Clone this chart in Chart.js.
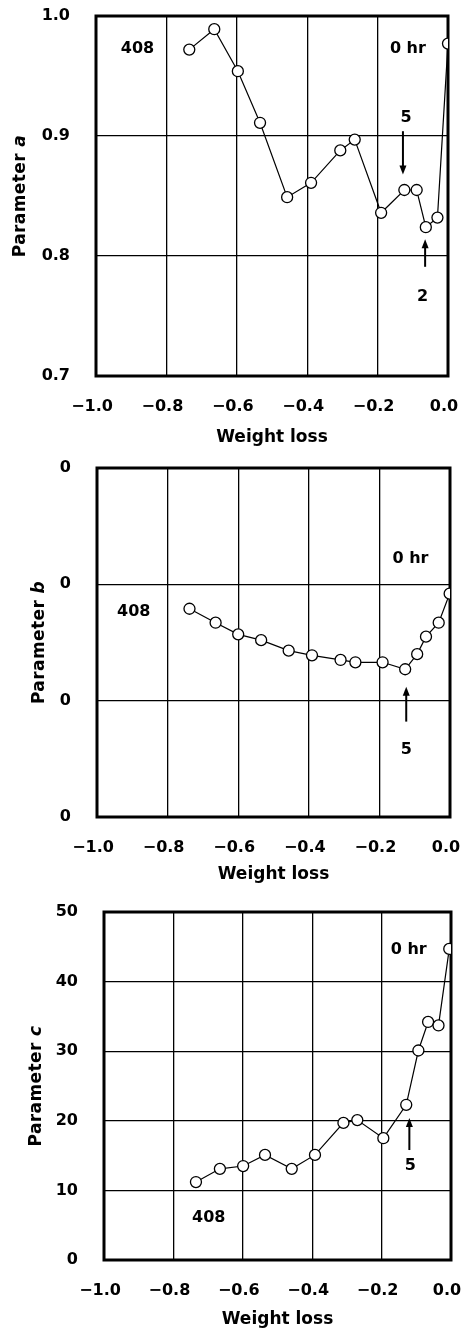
<!DOCTYPE html>
<html>
<head>
<meta charset="utf-8">
<script src="https://cdn.jsdelivr.net/npm/chart.js@4.4.1/dist/chart.umd.min.js"></script>
<style>
    body { margin: 0; background: #fff; }
    .panel { position: absolute; left: 0; width: 464px; }
</style>
</head>
<body>
<div class="panel" style="top:0"><canvas id="chart-a" width="464" height="450"></canvas></div>
<div class="panel" style="top:450px"><canvas id="chart-b" width="464" height="440"></canvas></div>
<div class="panel" style="top:890px"><canvas id="chart-c" width="464" height="442"></canvas></div>
<script>
// weight loss fraction vs fitted parameters a, b, c
var weightLossA = [-0.735, -0.664, -0.597, -0.534, -0.457, -0.389, -0.306, -0.265, -0.190, -0.124, -0.089, -0.063, -0.030, 0.000];
var paramA = [0.972, 0.989, 0.954, 0.911, 0.849, 0.861, 0.888, 0.897, 0.836, 0.855, 0.855, 0.824, 0.832, 0.977];

var weightLossB = [-0.738, -0.664, -0.600, -0.535, -0.457, -0.391, -0.310, -0.268, -0.191, -0.127, -0.093, -0.068, -0.032, -0.001];
var paramB = [0.00179, 0.00167, 0.00157, 0.00152, 0.00143, 0.00139, 0.00135, 0.00133, 0.00133, 0.00127, 0.00140, 0.00155, 0.00167, 0.00192];

var weightLossC = [-0.735, -0.666, -0.599, -0.536, -0.459, -0.392, -0.310, -0.270, -0.195, -0.129, -0.094, -0.066, -0.036, -0.005];
var paramC = [11.2, 13.1, 13.5, 15.1, 13.1, 15.1, 19.7, 20.1, 17.5, 22.3, 30.1, 34.2, 33.7, 44.7];

var xTickLabels = ['\u22121.0', '\u22120.8', '\u22120.6', '\u22120.4', '\u22120.2', '0.0'];
var yTickLabelsA = ['0.7', '0.8', '0.9', '1.0'];
var yTickLabelsB = ['0', '0', '0', '0'];
var yTickLabelsC = ['0', '10', '20', '30', '40', '50'];

Chart.defaults.font.family = '"DejaVu Sans", sans-serif';
Chart.defaults.font.size = 16;
Chart.defaults.font.weight = 'bold';
Chart.defaults.color = '#000';

// rotated axis title with an italic parameter symbol
var yTitlePlugin = {
    id: 'yTitle',
    afterDraw: function (chart, args, opts) {
        var ctx = chart.ctx;
        var area = chart.chartArea;
        ctx.save();
        ctx.translate(opts.x, (area.top + area.bottom) / 2);
        ctx.rotate(-Math.PI / 2);
        ctx.fillStyle = '#000';
        ctx.textBaseline = 'middle';
        ctx.textAlign = 'left';
        ctx.letterSpacing = '0.4px';
        ctx.font = 'bold 17px "DejaVu Sans"';
        var w1 = ctx.measureText(opts.text).width;
        ctx.font = 'italic bold 17px "DejaVu Sans"';
        var w2 = ctx.measureText(opts.symbol).width;
        var start = -(w1 + w2) / 2;
        ctx.font = 'bold 17px "DejaVu Sans"';
        ctx.fillText(opts.text, start, 0);
        ctx.font = 'italic bold 17px "DejaVu Sans"';
        ctx.fillText(opts.symbol, start + w1, 0);
        ctx.restore();
    }
};

// heavy frame round the plot area, under the markers
var framePlugin = {
    id: 'frame',
    beforeDatasetsDraw: function (chart) {
        var ctx = chart.ctx;
        var a = chart.chartArea;
        ctx.save();
        ctx.strokeStyle = '#000';
        ctx.lineWidth = 3;
        ctx.strokeRect(a.left, a.top, a.right - a.left, a.bottom - a.top);
        ctx.restore();
    }
};

// text notes and arrows placed in data coordinates
var notesPlugin = {
    id: 'notes',
    afterDraw: function (chart, args, opts) {
        var ctx = chart.ctx;
        var xs = chart.scales.x;
        var ys = chart.scales.y;
        ctx.save();
        ctx.fillStyle = '#000';
        ctx.strokeStyle = '#000';
        ctx.font = 'bold 16px "DejaVu Sans"';
        ctx.textAlign = 'center';
        ctx.textBaseline = 'middle';
        for (var i = 0; i < opts.items.length; ++i) {
            var n = opts.items[i];
            var px = xs.getPixelForValue(n.x);
            if (n.text) {
                ctx.fillText(n.text, px, ys.getPixelForValue(n.y));
            } else {
                var y0 = ys.getPixelForValue(n.from);
                var y1 = ys.getPixelForValue(n.to);
                var dir = y1 > y0 ? 1 : -1;
                ctx.lineWidth = 2;
                ctx.beginPath();
                ctx.moveTo(px, y0);
                ctx.lineTo(px, y1 - dir * 6);
                ctx.stroke();
                ctx.beginPath();
                ctx.moveTo(px, y1);
                ctx.lineTo(px - 3.5, y1 - dir * 9);
                ctx.lineTo(px + 3.5, y1 - dir * 9);
                ctx.closePath();
                ctx.fill();
            }
        }
        ctx.restore();
    }
};

var fmtLabel = function (labels) {
    return function (value, index) {
        return labels[index];
    };
};

var makePanel = function (id, xs, ys, cfg) {
    var points = [];
    for (var i = 0; i < xs.length; ++i) {
        points.push({ x: xs[i], y: ys[i] });
    }
    return new Chart(document.getElementById(id), {
        type: 'scatter',
        data: {
            datasets: [{
                data: points,
                showLine: true,
                borderColor: '#000',
                borderWidth: 1.2,
                pointRadius: 5.5,
                pointBackgroundColor: '#fff',
                pointBorderColor: '#000',
                pointBorderWidth: 1.3,
                tension: 0
            }]
        },
        options: {
            responsive: false,
            animation: false,
            events: [],
            layout: { padding: { left: 0, top: cfg.top, right: cfg.right, bottom: 0 } },
            plugins: {
                legend: { display: false },
                tooltip: { enabled: false },
                yTitle: { x: cfg.titleX, text: 'Parameter ', symbol: cfg.symbol },
                notes: { items: cfg.notes }
            },
            scales: {
                x: {
                    type: 'linear',
                    min: -1,
                    max: 0,
                    afterFit: function (scale) {
                        // fixed axis band so the plot area lines up between panels
                        scale.height = cfg.xHeight;
                        scale.paddingLeft = 0;
                        scale.paddingRight = 0;
                    },
                    ticks: { stepSize: 0.2, padding: 21, labelOffset: -4, maxRotation: 0, callback: fmtLabel(xTickLabels) },
                    grid: { color: '#000', lineWidth: 1.3, drawTicks: false },
                    border: { display: false },
                    title: { display: true, text: 'Weight loss', font: { size: 17 }, padding: { top: 0, bottom: cfg.xTitlePad } }
                },
                y: {
                    type: 'linear',
                    min: cfg.yMin,
                    max: cfg.yMax,
                    afterFit: function (scale) {
                        scale.width = cfg.yWidth;
                        scale.paddingTop = 0;
                        scale.paddingBottom = 0;
                    },
                    ticks: { stepSize: cfg.yStep, padding: 26, callback: fmtLabel(cfg.yLabels) },
                    grid: { color: '#000', lineWidth: 1.3, drawTicks: false },
                    border: { display: false }
                }
            }
        },
        plugins: [yTitlePlugin, framePlugin, notesPlugin]
    });
};

makePanel('chart-a', weightLossA, paramA, {
    top: 16, right: 16, yWidth: 96, xHeight: 74, xTitlePad: 2, titleX: 21,
    yMin: 0.7, yMax: 1.0, yStep: 0.1, yLabels: yTickLabelsA, symbol: 'a',
    notes: [
        { x: -0.882, y: 0.973, text: '408' },
        { x: -0.114, y: 0.973, text: '0 hr' },
        { x: -0.119, y: 0.915, text: '5' },
        { x: -0.128, from: 0.904, to: 0.868 },
        { x: -0.072, y: 0.766, text: '2' },
        { x: -0.065, from: 0.791, to: 0.814 }
    ]
});

makePanel('chart-b', weightLossB, paramB, {
    top: 18, right: 14, yWidth: 97, xHeight: 73, xTitlePad: 5, titleX: 40,
    yMin: 0, yMax: 0.003, yStep: 0.001, yLabels: yTickLabelsB, symbol: 'b',
    notes: [
        { x: -0.112, y: 0.00222, text: '0 hr' },
        { x: -0.896, y: 0.00176, text: '408' },
        { x: -0.124, y: 0.00058, text: '5' },
        { x: -0.124, from: 0.00082, to: 0.00112 }
    ]
});

makePanel('chart-c', weightLossC, paramC, {
    top: 22, right: 13, yWidth: 104, xHeight: 72, xTitlePad: 2, titleX: 37,
    yMin: 0, yMax: 50, yStep: 10, yLabels: yTickLabelsC, symbol: 'c',
    notes: [
        { x: -0.122, y: 44.5, text: '0 hr' },
        { x: -0.698, y: 6.0, text: '408' },
        { x: -0.117, y: 13.5, text: '5' },
        { x: -0.120, from: 15.8, to: 20.4 }
    ]
});
</script>
</body>
</html>
